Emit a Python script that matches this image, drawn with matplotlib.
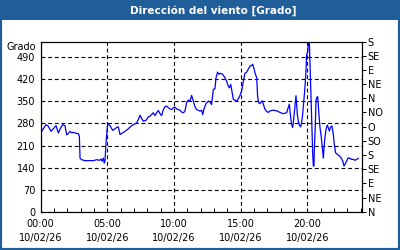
import matplotlib
matplotlib.use("Agg")
import matplotlib.pyplot as plt
from matplotlib.patches import Rectangle
from matplotlib.ticker import MultipleLocator

# hours since 00:00 on 10/02/26, wind direction in degrees
hours = [0.0, 0.15, 0.4, 0.57, 0.77, 0.95, 1.15, 1.32, 1.5, 1.65, 1.82, 1.95, 2.07, 2.2, 2.33,
         2.45, 2.7, 2.82, 2.9, 2.95, 3.07, 3.32, 3.95, 4.2, 4.4, 4.52, 4.6, 4.7, 4.77, 4.82,
         4.9, 4.95, 5.02, 5.2, 5.4, 5.57, 5.75, 5.82, 5.95, 6.07, 6.32, 6.57, 6.82, 7.07, 7.2,
         7.32, 7.45, 7.57, 7.7, 7.9, 8.07, 8.2, 8.32, 8.45, 8.57, 8.7, 8.82, 8.95, 9.07, 9.2,
         9.32, 9.45, 9.57, 9.7, 9.82, 9.95, 10.07, 10.2, 10.45, 10.57, 10.7, 10.82, 10.95, 11.07,
         11.2, 11.32, 11.45, 11.55, 11.7, 11.82, 11.95, 12.07, 12.15, 12.25, 12.4, 12.57, 12.7,
         12.82, 12.95, 13.07, 13.15, 13.27, 13.37, 13.5, 13.65, 13.82, 13.95, 14.07, 14.15,
         14.25, 14.32, 14.45, 14.57, 14.7, 14.82, 14.95, 15.07, 15.2, 15.32, 15.45, 15.57,
         15.7, 15.82, 15.9, 16.0, 16.07, 16.2, 16.27, 16.32, 16.4, 16.5, 16.6, 16.7, 16.82,
         16.95, 17.07, 17.2, 17.45, 17.7, 17.95, 18.2, 18.45, 18.57, 18.65, 18.75, 18.82, 18.9,
         18.95, 19.07, 19.15, 19.25, 19.32, 19.4, 19.5, 19.57, 19.65, 19.75, 19.82, 19.9,
         19.95, 20.03, 20.07, 20.15, 20.2, 20.27, 20.35, 20.4, 20.45, 20.5, 20.52, 20.6, 20.65,
         20.7, 20.78, 20.85, 20.95, 21.05, 21.12, 21.2, 21.25, 21.32, 21.4, 21.5, 21.57, 21.65,
         21.75, 21.85, 21.95, 22.02, 22.12, 22.25, 22.4, 22.5, 22.65, 22.75, 22.82, 22.95,
         23.07, 23.2, 23.32, 23.45, 23.57, 23.7, 23.82]
grados = [250, 260, 276, 271, 255, 263, 273, 250, 266, 276, 273, 244, 248, 255, 250,
          252, 248, 248, 239, 170, 165, 162, 162, 165, 163, 167, 160, 170, 154, 160,
          218, 245, 280, 273, 258, 263, 269, 269, 245, 248, 255, 263, 273, 279, 282,
          292, 306, 296, 287, 290, 301, 303, 308, 314, 305, 314, 321, 311, 305, 324,
          333, 335, 330, 326, 324, 330, 332, 326, 322, 316, 314, 319, 347, 354,
          351, 369, 351, 335, 324, 322, 319, 322, 308, 326, 343, 351, 348,
          340, 388, 390, 425, 443, 436, 439, 436, 425, 414, 398, 393,
          404, 388, 356, 354, 351, 358, 369, 383, 414, 439, 443, 452,
          462, 464, 468, 454, 441, 425, 367, 351, 343, 346, 352, 341, 325,
          318, 315, 320, 322, 320, 315, 311, 314, 331, 341, 299, 277, 267,
          283, 336, 368, 309, 288, 275, 269, 283, 309, 357, 394, 448,
          500, 506, 535, 540, 469, 362, 256, 187, 145, 145, 193, 277, 352,
          362, 365, 320, 267, 235, 203, 170, 203, 235, 261, 275, 267, 256,
          269, 272, 245, 214, 187, 182, 177, 173, 161, 145, 150, 161,
          171, 169, 166, 166, 163, 166, 169]

xticks = [0, 5, 10, 15, 20]
xlabels = ["00:00\n10/02/26", "05:00\n10/02/26", "10:00\n10/02/26",
           "15:00\n10/02/26", "20:00\n10/02/26"]
yticks = [0, 70, 140, 210, 280, 350, 420, 490]
rumbos = ["N", "NE", "E", "SE", "S", "SO", "O", "NO", "N", "NE", "E", "SE", "S"]

blue = "#1f5e98"
fs = 7

fig = plt.figure(figsize=(4, 2.5), dpi=100)
fig.patch.set_facecolor("white")
fig.add_artist(Rectangle((0, 0.92), 1, 0.08, transform=fig.transFigure,
                         facecolor=blue, edgecolor="none"))
fig.add_artist(Rectangle((0, 0), 1, 1, transform=fig.transFigure, fill=False,
                         edgecolor=blue, lw=3))
fig.text(213 / 400, 1 - 10.5 / 250, "Dirección del viento [Grado]", color="white",
         fontsize=7.5, fontweight="bold", ha="center", va="center")

ax = fig.add_axes([40.7 / 400, 1 - 211.7 / 250, (362 - 40.7) / 400, (211.7 - 41.5) / 250])
ax.plot(hours, grados, color="#0000ff", lw=0.9)
ax.set_xlim(0, 24.1)
ax.set_ylim(0, 540)
ax.set_xticks(xticks)
ax.set_xticklabels(xlabels, fontsize=fs, linespacing=1.6)
ax.xaxis.set_minor_locator(MultipleLocator(1))
ax.set_yticks(yticks)
ax.set_yticklabels([str(v) for v in yticks], fontsize=fs)
ax.tick_params(axis="x", which="major", length=0, pad=5)
ax.tick_params(axis="x", which="minor", direction="in", length=3, width=0.7)
ax.tick_params(axis="y", length=0, pad=4)
ax.grid(True, color="black", ls=(0, (3.5, 2.5)), lw=0.8)
for s in ax.spines.values():
    s.set_linewidth(0.8)

ax2 = ax.twinx()
ax2.set_ylim(0, 540)
ax2.set_yticks(range(0, 541, 45))
ax2.set_yticklabels(rumbos, fontsize=fs)
ax2.tick_params(axis="y", direction="out", length=3, width=0.7, pad=1)

fig.text(36 / 400, 1 - 46.5 / 250, "Grado", fontsize=fs, ha="right", va="center")

fig.savefig("out.png", dpi=100)
